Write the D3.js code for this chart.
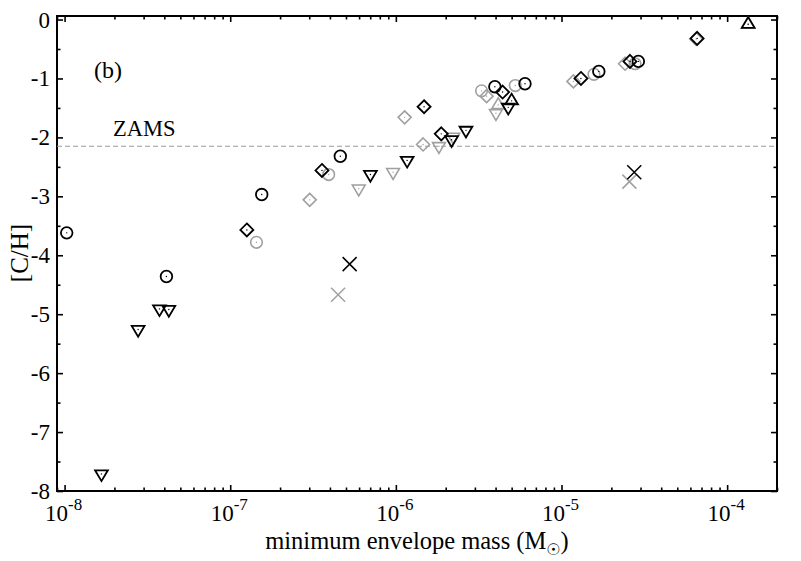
<!DOCTYPE html>
<html>
<head>
<meta charset="utf-8">
<script src="https://cdn.jsdelivr.net/npm/d3@7"></script>
<style>
  body { margin: 0; background: #fff; }
  text { font-family: "Liberation Serif", "Times New Roman", serif; fill: #000; }
</style>
</head>
<body>
<svg id="chart" width="801" height="561"></svg>
<script>
// ---- data: [minimum envelope mass (Msun), [C/H]] ----
const blackCircles = [[1.03e-8,-3.62],[4.12e-8,-4.36],[1.55e-7,-2.97],[4.62e-7,-2.32],[3.96e-6,-1.14],[6.02e-6,-1.09],[1.68e-5,-0.88],[2.91e-5,-0.71]];
const grayCircles  = [[1.44e-7,-3.78],[3.93e-7,-2.63],[3.29e-6,-1.21],[5.26e-6,-1.12],[1.57e-5,-0.93],[2.78e-5,-0.75]];
const blackDiamonds = [[1.26e-7,-3.57],[3.58e-7,-2.56],[1.48e-6,-1.48],[1.88e-6,-1.94],[4.41e-6,-1.23],[1.31e-5,-1.00],[2.59e-5,-0.71],[6.59e-5,-0.32]];
const grayDiamonds  = [[3.02e-7,-3.06],[1.13e-6,-1.66],[1.46e-6,-2.12],[3.53e-6,-1.30],[1.18e-5,-1.05],[2.42e-5,-0.75],[6.5e-5,-0.33]];
const blackDown = [[1.67e-8,-7.71],[2.78e-8,-5.26],[3.74e-8,-4.91],[4.26e-8,-4.92],[7.02e-7,-2.63],[1.17e-6,-2.39],[2.17e-6,-2.04],[2.65e-6,-1.88],[4.77e-6,-1.49]];
const grayDown  = [[5.97e-7,-2.87],[9.62e-7,-2.59],[1.82e-6,-2.15],[2.22e-6,-1.99],[4.02e-6,-1.59]];
const blackUp = [[5.00e-6,-1.38],[1.34e-4,-0.08]];
const grayUp  = [[4.15e-6,-1.45],[1.34e-4,-0.08]];
const blackX = [[5.26e-7,-4.15],[2.75e-5,-2.59]];
const grayX  = [[4.48e-7,-4.67],[2.57e-5,-2.75]];
const zamsLevel = -2.15;
const xMajorTicks = [1e-8, 1e-7, 1e-6, 1e-5, 1e-4];
const xTickExponents = ["-8", "-7", "-6", "-5", "-4"];
const yMajorTicks = [0, -1, -2, -3, -4, -5, -6, -7, -8];
const yTickLabels = ["0", "-1", "-2", "-3", "-4", "-5", "-6", "-7", "-8"];

// ---- layout ----
const L = 57, R = 777, T = 16, B = 491;
const BLACK = "#000", GRAY = "#a0a0a0";
const svg = d3.select("#chart");
const x = d3.scaleLog().domain([9e-9, 2e-4]).range([L, R]);
const y = d3.scaleLinear().domain([-8, 0.06]).range([B, T]);

// minor x ticks
const xMinor = [];
for (let e = -9; e <= -4; e++) for (let m = 2; m <= 9; m++) {
  const v = m * Math.pow(10, e);
  if (v >= 9e-9 && v <= 2e-4) xMinor.push(v);
}
const yMinor = d3.range(-7.5, 0, 1);

const axisG = svg.append("g");
function tickAxis(axisFn, scale, vals, size, transform) {
  const g = axisG.append("g").attr("transform", transform)
    .call(axisFn(scale).tickValues(vals).tickSize(size).tickFormat(""));
  g.select(".domain").remove();
  g.selectAll("line").attr("stroke", BLACK).attr("stroke-width", 1.6);
}
tickAxis(d3.axisBottom, x, xMajorTicks, -6, `translate(0,${B})`);
tickAxis(d3.axisBottom, x, xMinor, -3.5, `translate(0,${B})`);
tickAxis(d3.axisTop, x, xMajorTicks, -6, `translate(0,${T})`);
tickAxis(d3.axisTop, x, xMinor, -3.5, `translate(0,${T})`);
tickAxis(d3.axisLeft, y, yMajorTicks, -6, `translate(${L},0)`);
tickAxis(d3.axisLeft, y, yMinor, -3.5, `translate(${L},0)`);
tickAxis(d3.axisRight, y, yMajorTicks, -6, `translate(${R},0)`);
tickAxis(d3.axisRight, y, yMinor, -3.5, `translate(${R},0)`);

// frame
svg.append("rect").attr("x", L).attr("y", T).attr("width", R - L).attr("height", B - T)
  .attr("fill", "none").attr("stroke", BLACK).attr("stroke-width", 2);

// tick labels
xMajorTicks.forEach((v, i) => {
  const t = svg.append("text").attr("x", x(v) - 1).attr("y", 521)
    .attr("text-anchor", "middle").attr("font-size", 23);
  t.append("tspan").text("10");
  t.append("tspan").attr("font-size", 17).attr("dy", -11).text(xTickExponents[i]);
});
yMajorTicks.forEach((v, i) => {
  svg.append("text").attr("x", 50).attr("y", y(v) + 8)
    .attr("text-anchor", "end").attr("font-size", 23).text(yTickLabels[i]);
});

// axis titles
const xt = svg.append("text").attr("x", 417).attr("y", 549).attr("text-anchor", "middle").attr("font-size", 24.5);
xt.append("tspan").text("minimum envelope mass (M");
xt.append("tspan").attr("font-size", 16).attr("dy", 6).attr("font-family", "DejaVu Sans").text("\u2609");
xt.append("tspan").attr("dy", -6).text(")");
svg.append("text").attr("transform", "translate(28,253) rotate(-90)")
  .attr("text-anchor", "middle").attr("font-size", 25).text("[C/H]");

// ZAMS line
svg.append("line").attr("x1", L).attr("x2", R).attr("y1", y(zamsLevel)).attr("y2", y(zamsLevel))
  .attr("stroke", "#999").attr("stroke-width", 1.2).attr("stroke-dasharray", "5,3");
svg.append("text").attr("x", 113).attr("y", 136).attr("font-size", 22.5).text("ZAMS");
svg.append("text").attr("x", 94).attr("y", 78).attr("font-size", 24).text("(b)");

// markers
const plot = svg.append("g");
function drawSeries(data, shape, color, sw) {
  const g = plot.append("g").selectAll("g").data(data).join("g")
    .attr("transform", d => `translate(${x(d[0])},${y(d[1])})`);
  let path;
  if (shape === "circle") path = d => g.append("circle").attr("r", 5.8);
  if (shape === "diamond") path = () => g.append("path").attr("d", "M0,-6.5L6.5,0L0,6.5L-6.5,0Z");
  if (shape === "down") path = () => g.append("path").attr("d", "M-6.4,-3.6L6.4,-3.6L0,7.2Z");
  if (shape === "up") path = () => g.append("path").attr("d", "M-6.4,3.6L6.4,3.6L0,-7.2Z");
  if (shape === "x") path = () => g.append("path").attr("d", "M-7,-7L7,7M-7,7L7,-7");
  path().attr("fill", "none").attr("stroke", color).attr("stroke-width", sw);
  if (shape !== "x") g.append("circle").attr("r", 0.7).attr("fill", color);
}
drawSeries(grayCircles, "circle", GRAY, 1.6);
drawSeries(grayDiamonds, "diamond", GRAY, 1.6);
drawSeries(grayDown, "down", GRAY, 1.6);
drawSeries(grayUp, "up", GRAY, 1.6);
drawSeries(grayX, "x", GRAY, 1.5);
drawSeries(blackCircles, "circle", BLACK, 1.8);
drawSeries(blackDiamonds, "diamond", BLACK, 1.8);
drawSeries(blackDown, "down", BLACK, 1.8);
drawSeries(blackUp, "up", BLACK, 1.8);
drawSeries(blackX, "x", BLACK, 1.5);
</script>
</body>
</html>
